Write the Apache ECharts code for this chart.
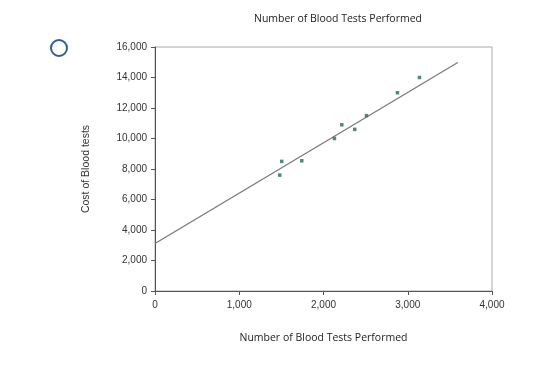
<!DOCTYPE html>
<html>
<head>
<meta charset="utf-8">
<script src="https://cdn.jsdelivr.net/npm/echarts@6/dist/echarts.min.js"></script>
<style>
  html, body { margin: 0; padding: 0; background: #fff; }
  #main { width: 560px; height: 391px; }
</style>
</head>
<body>
<div id="main"></div>
<script>
// points: [tests performed, cost]
var testsPerformed = [1481, 1504, 1742, 2130, 2217, 2371, 2510, 2878, 3139];
var bloodTestCost  = [7600, 8500, 8540, 10000, 10900, 10600, 11500, 13000, 14000];

// trend line end points
var trendX = [0, 3594];
var trendY = [3116, 14977];

var chart = echarts.init(document.getElementById('main'));

var points = testsPerformed.map(function (x, i) { return [x, bloodTestCost[i]]; });
var trend = trendX.map(function (x, i) { return [x, trendY[i]]; });

var labelFont = 'Liberation Sans';
var titleFont = 'Open Sans';

var option = {
    backgroundColor: '#fff',
    animation: false,
    title: {
        text: 'Number of Blood Tests Performed',
        left: 333,
        top: 9,
        textAlign: 'center',
        textStyle: { fontFamily: titleFont, fontSize: 10.5, fontWeight: 'normal', color: '#222' }
    },
    grid: {
        left: 155, right: 68, top: 47, bottom: 100,
        show: true, borderColor: '#a8a8a8', borderWidth: 1
    },
    xAxis: {
        type: 'value',
        min: 0, max: 4000, interval: 1000,
        name: 'Number of Blood Tests Performed',
        nameLocation: 'middle',
        nameGap: 42,
        nameTextStyle: { fontFamily: titleFont, fontSize: 10.5, color: '#222' },
        axisLine: { show: true, lineStyle: { color: '#555' } },
        axisTick: { show: true, length: 4, lineStyle: { color: '#555' } },
        splitLine: { show: false },
        axisLabel: {
            fontFamily: labelFont, fontSize: 10, color: '#333', margin: 9,
            formatter: function (v) { return v.toLocaleString('en-US'); }
        }
    },
    yAxis: {
        type: 'value',
        min: 0, max: 16000, interval: 2000,
        name: 'Cost of Blood tests',
        nameLocation: 'middle',
        nameGap: 63,
        nameTextStyle: { fontFamily: labelFont, fontSize: 10.5, color: '#333' },
        axisLine: { show: true, lineStyle: { color: '#555' } },
        axisTick: { show: true, length: 4, lineStyle: { color: '#555' } },
        splitLine: { show: false },
        axisLabel: {
            fontFamily: labelFont, fontSize: 10, color: '#333', margin: 8,
            formatter: function (v) { return v.toLocaleString('en-US'); }
        }
    },
    series: [
        {
            type: 'line',
            data: trend,
            showSymbol: false,
            lineStyle: { color: '#777', width: 1.2 },
            z: 2
        },
        {
            type: 'scatter',
            data: points,
            symbol: 'rect',
            symbolSize: 3.5,
            itemStyle: { color: '#256b5f' },
            z: 3
        }
    ],
    graphic: [
        {
            type: 'circle',
            shape: { cx: 59, cy: 48, r: 8 },
            style: { fill: 'none', stroke: '#2c5f98', lineWidth: 2 }
        }
    ]
};

chart.setOption(option);
</script>
</body>
</html>
